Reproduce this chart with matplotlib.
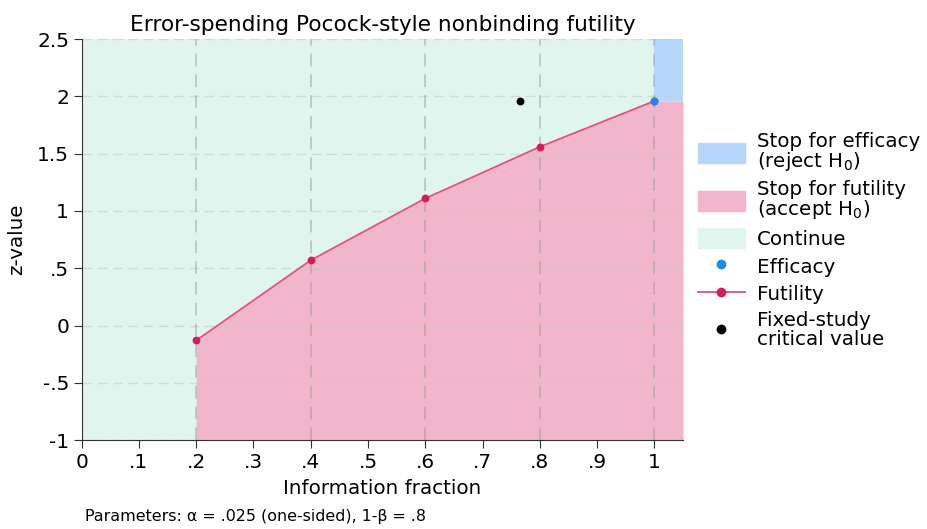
import matplotlib
matplotlib.use("Agg")
import matplotlib.pyplot as plt
from matplotlib.patches import Patch
from matplotlib.lines import Line2D

# --- Data ---
info_frac = [0.2, 0.4, 0.6, 0.8, 1.0]
futility_z = [-0.13, 0.57, 1.11, 1.56, 1.96]
efficacy_x = [1.0]
efficacy_z = [1.96]
fixed_x = [0.766]
fixed_z = [1.96]

x_ticks = [0, 0.1, 0.2, 0.3, 0.4, 0.5, 0.6, 0.7, 0.8, 0.9, 1.0]
x_ticklabels = ["0", ".1", ".2", ".3", ".4", ".5", ".6", ".7", ".8", ".9", "1"]
y_ticks = [-1, -0.5, 0, 0.5, 1, 1.5, 2, 2.5]
y_ticklabels = ["-1", "-.5", "0", ".5", "1", "1.5", "2", "2.5"]

xmax = 1.05
ymin, ymax = -1, 2.5

# --- Colors ---
c_green = "#dff5ee"
c_pink = "#f1b6cb"
c_blue = "#b5d7fb"
c_eff = "#1e88e5"
c_fut = "#d81b60"

fig = plt.figure(figsize=(9.28, 5.29), dpi=100)
ax = fig.add_axes([0.088, 0.168, 0.648, 0.758])

# continue region (background)
ax.fill_between([0, xmax], ymin, ymax, color=c_green, lw=0, zorder=0)
# futility region
fx = info_frac + [xmax]
fz = futility_z + [futility_z[-1]]
ax.fill_between(fx, ymin, fz, color=c_pink, lw=0, zorder=1)
# efficacy region
ax.fill_between([efficacy_x[0], xmax], efficacy_z[0], ymax, color=c_blue, lw=0, zorder=1)

# grid
for y in y_ticks:
    ax.axhline(y, color="#c8c8c8", lw=1, ls=(0, (7, 4)), alpha=0.6, zorder=2)
for x in info_frac:
    ax.axvline(x, color="#989898", lw=1.3, ls=(0, (7, 4.5)), alpha=0.5, zorder=2)

ax.plot(info_frac, futility_z, color="#e3527f", lw=1.3, zorder=3)
ax.scatter(info_frac, futility_z, color=c_fut, s=32, zorder=4, lw=0)
ax.scatter(efficacy_x, efficacy_z, color=c_eff, s=32, zorder=5, lw=0)
ax.scatter(fixed_x, fixed_z, color="black", s=32, zorder=5, lw=0)

ax.set_xlim(0, xmax)
ax.set_ylim(ymin, ymax)
ax.set_xticks(x_ticks)
ax.set_xticklabels(x_ticklabels)
ax.set_yticks(y_ticks)
ax.set_yticklabels(y_ticklabels)
ax.tick_params(labelsize=14.5, length=6, color="#333333", pad=3)
for s in ["top", "right"]:
    ax.spines[s].set_visible(False)
for s in ["left", "bottom"]:
    ax.spines[s].set_color("#333333")

ax.set_xlabel("Information fraction", fontsize=14.3, labelpad=5)
ax.set_ylabel("z-value", fontsize=14.3, labelpad=8)
ax.set_title("Error-spending Pocock-style nonbinding futility", fontsize=15.6, pad=6)

handles = [
    Patch(color=c_blue, label="Stop for efficacy\n(reject $\\mathregular{H_0}$)"),
    Patch(color=c_pink, label="Stop for futility\n(accept $\\mathregular{H_0}$)"),
    Patch(color=c_green, label="Continue"),
    Line2D([], [], ls="none", marker="o", color=c_eff, ms=6, label="Efficacy"),
    Line2D([], [], color="#e3527f", marker="o", mfc=c_fut, mec=c_fut, ms=6, lw=1.3,
           label="Futility"),
    Line2D([], [], ls="none", marker="o", color="black", ms=6, label="Fixed-study\ncritical value"),
]
leg = fig.legend(handles=handles, loc="center left", bbox_to_anchor=(0.7435, 0.546),
                 frameon=False, fontsize=14.3, handlelength=2.35, handleheight=1.2,
                 labelspacing=0.35, handletextpad=0.6, borderaxespad=0)
for t in leg.get_texts():
    t.set_linespacing(0.95)

fig.text(0.092, 0.016, "Parameters: α = .025 (one-sided), 1-β = .8", fontsize=11.4)

fig.savefig("out.png", dpi=100, facecolor="white")
